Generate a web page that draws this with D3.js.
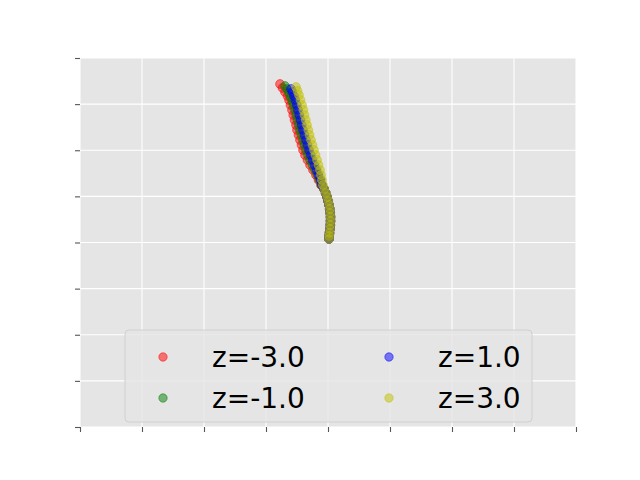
<!DOCTYPE html>
<html>
<head>
<meta charset="utf-8">
<script src="https://cdn.jsdelivr.net/npm/d3@7"></script>
<style>
  body { margin: 0; background: #fff; }
  svg { display: block; }
</style>
</head>
<body>
<svg id="chart" width="640" height="480"></svg>
<script>
// trajectories for each z
const redX = [-0.774,-0.734,-0.694,-0.653,-0.629,-0.605,-0.581,-0.560,-0.540,-0.516,-0.500,-0.476,-0.452,-0.427,-0.403,-0.371,-0.331,-0.290,-0.242,-0.194,-0.153,-0.113,
              -0.065,-0.040,-0.016,0.000,0.016,0.027,0.035,0.040,0.040,0.037,0.032,0.024,0.019,0.016];
const redY = [3.436,3.350,3.263,3.176,3.089,2.981,2.873,2.764,2.656,2.547,2.439,2.331,2.222,2.114,2.005,1.897,1.789,1.680,1.572,1.463,1.355,1.247,
              1.160,1.073,0.986,0.900,0.813,0.726,0.640,0.553,0.466,0.379,0.293,0.206,0.141,0.076];

const greenX = [-0.694,-0.661,-0.629,-0.600,-0.577,-0.556,-0.532,-0.511,-0.492,-0.471,-0.452,-0.427,-0.403,-0.379,-0.355,-0.323,-0.290,-0.250,-0.210,-0.169,-0.137,-0.105,
                -0.063,-0.038,-0.014,0.002,0.017,0.028,0.036,0.040,0.040,0.037,0.032,0.024,0.019,0.016];
const greenY = [3.393,3.328,3.241,3.154,3.068,2.981,2.873,2.764,2.656,2.547,2.439,2.331,2.222,2.114,2.005,1.897,1.789,1.680,1.572,1.463,1.355,1.247,
                1.160,1.073,0.986,0.900,0.813,0.726,0.640,0.553,0.466,0.379,0.293,0.206,0.141,0.076];

const blueX = [-0.597,-0.573,-0.548,-0.527,-0.503,-0.484,-0.463,-0.444,-0.423,-0.403,-0.379,-0.355,-0.331,-0.306,-0.277,-0.250,-0.218,-0.185,-0.153,-0.121,-0.097,
               -0.062,-0.037,-0.013,0.003,0.018,0.028,0.036,0.041,0.040,0.037,0.032,0.024,0.019,0.016];
const blueY = [3.328,3.263,3.176,3.089,2.981,2.873,2.764,2.656,2.547,2.439,2.331,2.222,2.114,2.005,1.897,1.789,1.680,1.572,1.463,1.355,1.247,
               1.160,1.073,0.986,0.900,0.813,0.726,0.640,0.553,0.466,0.379,0.293,0.206,0.141,0.076];

const yellowX = [-0.516,-0.492,-0.468,-0.444,-0.419,-0.398,-0.379,-0.358,-0.339,-0.318,-0.298,-0.274,-0.250,-0.226,-0.202,-0.177,-0.153,-0.129,-0.113,-0.097,-0.081,
                 -0.060,-0.035,-0.011,0.005,0.019,0.029,0.037,0.041,0.041,0.038,0.032,0.024,0.019,0.016];
const yellowY = [3.371,3.285,3.198,3.089,2.981,2.873,2.764,2.656,2.547,2.439,2.331,2.222,2.114,2.005,1.897,1.789,1.680,1.572,1.463,1.355,1.247,
                 1.160,1.073,0.986,0.900,0.813,0.726,0.640,0.553,0.466,0.379,0.293,0.206,0.141,0.076];

const labels = ["z=-3.0", "z=-1.0", "z=1.0", "z=3.0"];
const colors = ["#ff0000", "#008000", "#0000ff", "#bfbf00"];
const xTicks = [-4, -3, -2, -1, 0, 1, 2, 3, 4];
const yTicks = [-4, -3, -2, -1, 0, 1, 2, 3, 4];

const series = [
    {label: labels[0], color: colors[0], xs: redX, ys: redY},
    {label: labels[1], color: colors[1], xs: greenX, ys: greenY},
    {label: labels[2], color: colors[2], xs: blueX, ys: blueY},
    {label: labels[3], color: colors[3], xs: yellowX, ys: yellowY}
];

const svg = d3.select("#chart");
const plotLeft = 80, plotRight = 576, plotTop = 58, plotBottom = 427;

const x = d3.scaleLinear().domain([-4, 4]).range([plotLeft, plotRight]);
const y = d3.scaleLinear().domain([-4, 4]).range([plotBottom, plotTop]);

// axes background
svg.append("rect")
    .attr("x", plotLeft).attr("y", plotTop)
    .attr("width", plotRight - plotLeft).attr("height", plotBottom - plotTop)
    .attr("fill", "#e5e5e5");

// grid
const grid = svg.append("g");
grid.selectAll(".gx").data(xTicks).join("line")
    .attr("class", "gx")
    .attr("x1", d => x(d)).attr("x2", d => x(d))
    .attr("y1", plotTop).attr("y2", plotBottom)
    .attr("stroke", "#fff").attr("stroke-width", 1.1);
grid.selectAll(".gy").data(yTicks).join("line")
    .attr("class", "gy")
    .attr("y1", d => y(d)).attr("y2", d => y(d))
    .attr("x1", plotLeft).attr("x2", plotRight)
    .attr("stroke", "#fff").attr("stroke-width", 1.1);

// ticks without labels
const xAxis = svg.append("g")
    .attr("transform", `translate(0,${plotBottom})`)
    .call(d3.axisBottom(x).tickValues(xTicks).tickFormat("").tickSizeInner(5).tickSizeOuter(0));
const yAxis = svg.append("g")
    .attr("transform", `translate(${plotLeft},0)`)
    .call(d3.axisLeft(y).tickValues(yTicks).tickFormat("").tickSizeInner(5).tickSizeOuter(0));
[xAxis, yAxis].forEach(a => {
    a.select(".domain").remove();
    a.selectAll(".tick line").attr("stroke", "#555").attr("stroke-width", 1.1);
});

// points (face and edge both half transparent, like matplotlib scatter)
const plot = svg.append("g");
series.forEach(s => {
    plot.append("g").selectAll("circle")
        .data(s.xs.map((v, i) => [v, s.ys[i]]))
        .join("circle")
        .attr("cx", d => x(d[0]))
        .attr("cy", d => y(d[1]))
        .attr("r", 4.4)
        .attr("fill", s.color)
        .attr("fill-opacity", 0.5)
        .attr("stroke", s.color)
        .attr("stroke-opacity", 0.5)
        .attr("stroke-width", 1);
});

// legend
const legend = svg.append("g");
legend.append("rect")
    .attr("x", 125).attr("y", 330)
    .attr("width", 407).attr("height", 92)
    .attr("rx", 4)
    .attr("fill", "#e5e5e5").attr("fill-opacity", 0.8)
    .attr("stroke", "#d0d0d0").attr("stroke-width", 1);

const item = legend.selectAll(".item").data(series).join("g")
    .attr("class", "item")
    .attr("transform", (d, i) => `translate(${163 + Math.floor(i / 2) * 226},${357 + (i % 2) * 41})`);
item.append("circle")
    .attr("r", 4.2)
    .attr("fill", d => d.color)
    .attr("fill-opacity", 0.5)
    .attr("stroke", d => d.color)
    .attr("stroke-opacity", 0.5)
    .attr("stroke-width", 1);
item.append("text")
    .attr("x", 49)
    .attr("y", 0)
    .attr("dy", "0.36em")
    .attr("font-family", "DejaVu Sans")
    .attr("font-size", 28)
    .attr("fill", "#000")
    .text(d => d.label);
</script>
</body>
</html>
